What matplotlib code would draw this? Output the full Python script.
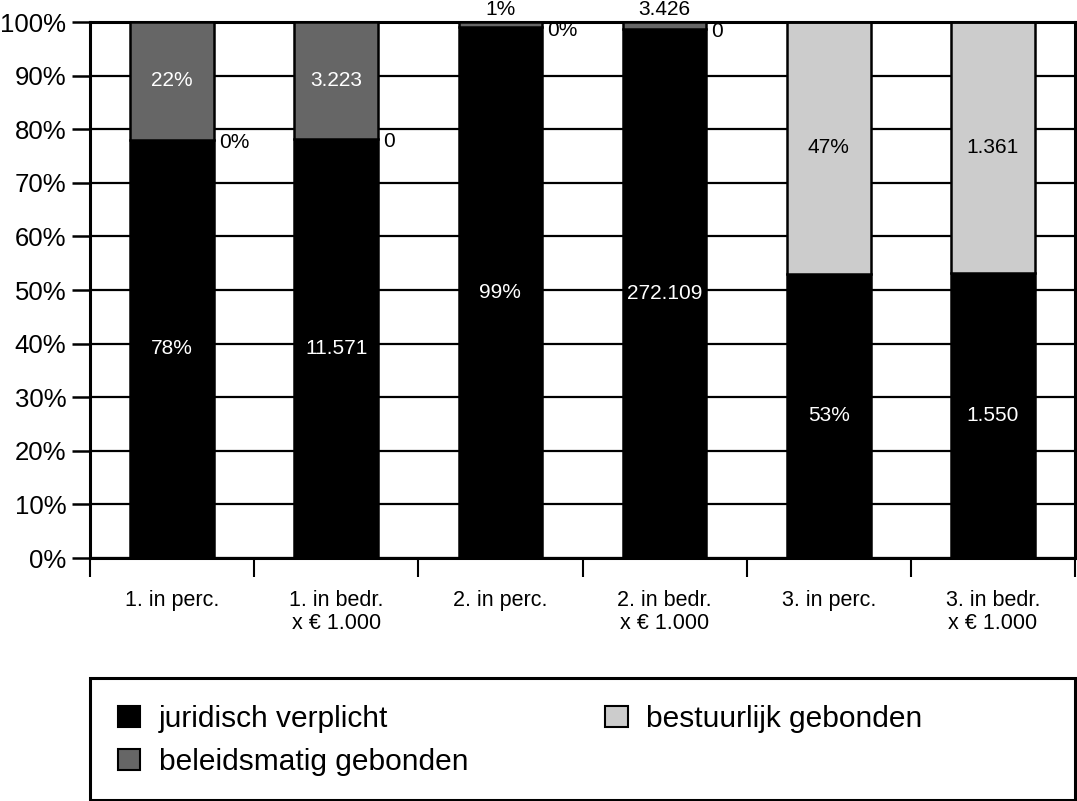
import numpy as np
import matplotlib.pyplot as plt
from matplotlib.patches import Patch, Rectangle

plt.rcParams['font.family'] = ['Liberation Sans', 'DejaVu Sans']

categories = ['1. in perc.', '1. in bedr.\nx € 1.000', '2. in perc.',
              '2. in bedr.\nx € 1.000', '3. in perc.', '3. in bedr.\nx € 1.000']
# raw values per group (percentages or amounts x 1.000)
juridisch = [78, 11571, 99, 272109, 53, 1550]
bestuurlijk = [0, 0, 0, 0, 47, 1361]
beleidsmatig = [22, 3223, 1, 3426, 0, 0]
# labels as printed in the chart (None = not shown)
jur_labels = ['78%', '11.571', '99%', '272.109', '53%', '1.550']
bes_labels = ['0%', '0', '0%', '0', '47%', '1.361']
bel_labels = ['22%', '3.223', '1%', '3.426', None, None]

colors = {'jur': '#000000', 'bel': '#666666', 'bes': '#cccccc'}

W, H = 1077, 801
fig = plt.figure(figsize=(W / 100, H / 100), dpi=100)
ax = fig.add_axes([90 / W, 1 - 558 / H, 985 / W, 536 / H])

x = np.arange(len(categories))
tot = np.array(juridisch, float) + np.array(bestuurlijk) + np.array(beleidsmatig)
stack = [
    (np.array(juridisch) / tot * 100, jur_labels, colors['jur'], 'white'),
    (np.array(bestuurlijk) / tot * 100, bes_labels, colors['bes'], 'black'),
    (np.array(beleidsmatig) / tot * 100, bel_labels, colors['bel'], 'white'),
]
bw = 0.51
bottom = np.zeros(len(x))
for vals, labels, col, tcol in stack:
    ax.bar(x, vals, bw, bottom=bottom, color=col, edgecolor='black', linewidth=1.8, zorder=3)
    for i, (v, lab) in enumerate(zip(vals, labels)):
        if lab is None:
            continue
        if v == 0:
            ax.text(x[i] + bw / 2 + 0.03, bottom[i] - 0.5, lab, ha='left', va='center',
                    fontsize=15, color='black', zorder=5)
        elif v < 5:
            ax.text(x[i], bottom[i] + v + 0.6, lab, ha='center', va='bottom',
                    fontsize=15, color='black', clip_on=False, zorder=5)
        else:
            ax.text(x[i], bottom[i] + v / 2, lab, ha='center', va='center',
                    fontsize=15, color=tcol, zorder=5)
    bottom += vals

ax.set_xlim(-0.5, len(x) - 0.5)
ax.set_ylim(0, 100)
ax.set_yticks(np.arange(0, 101, 10))
ax.set_yticklabels([f'{v}%' for v in range(0, 101, 10)], fontsize=18.5)
ax.set_xticks(x)
ax.set_xticklabels(categories, fontsize=15.5, linespacing=1.1)
ax.set_xticks(np.arange(-0.5, len(x)), minor=True)
ax.tick_params(axis='x', which='major', length=0, pad=23)
ax.tick_params(axis='x', which='minor', length=14, width=1.5, direction='out')
ax.tick_params(axis='y', length=13, width=1.8, pad=4)
ax.yaxis.grid(True, color='black', linewidth=1.6)
ax.set_axisbelow(True)
for s in ax.spines.values():
    s.set_linewidth(2.2)

# legend box
fig.patches.append(Rectangle((90 / W, 1 - 800 / H), 985 / W, 122 / H, transform=fig.transFigure,
                             fill=False, edgecolor='black', linewidth=2.2))
handles = [Patch(facecolor=colors['jur'], edgecolor='black', linewidth=1.5, label='juridisch verplicht'),
           Patch(facecolor=colors['bel'], edgecolor='black', linewidth=1.5, label='beleidsmatig gebonden'),
           Patch(facecolor=colors['bes'], edgecolor='black', linewidth=1.5, label='bestuurlijk gebonden')]
fig.legend(handles=handles, loc='upper left', bbox_to_anchor=(118 / W, 1 - 705 / H), ncol=2,
           frameon=False, fontsize=21.5, borderpad=0, borderaxespad=0, handlelength=0.74,
           handleheight=0.74, handletextpad=0.62, labelspacing=0.5, columnspacing=4.6)

fig.savefig('out.png', dpi=100)
